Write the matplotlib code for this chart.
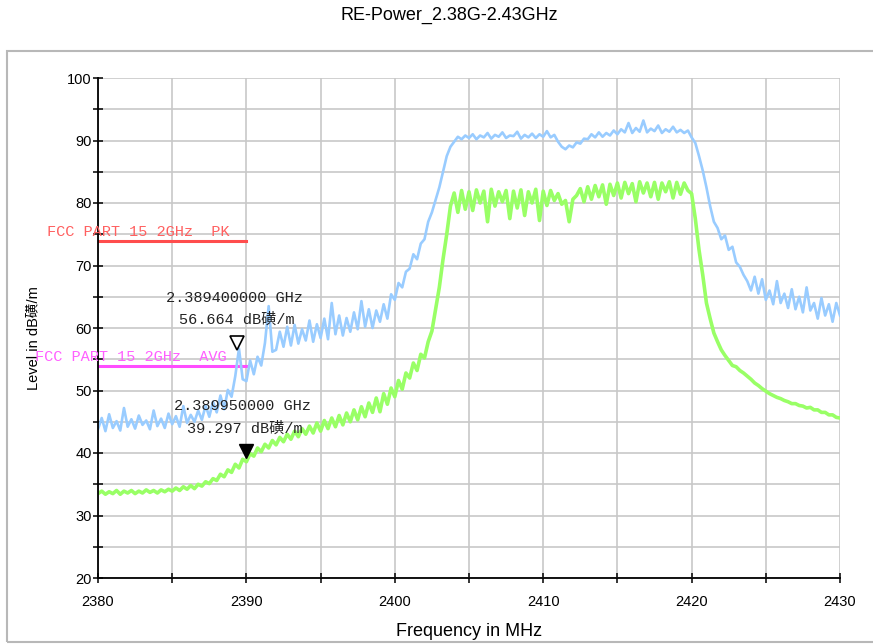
import numpy as np
import matplotlib
matplotlib.use("Agg")
import matplotlib.pyplot as plt
from matplotlib.patches import Rectangle
from matplotlib.transforms import offset_copy

plt.rcParams['font.family'] = ['Liberation Sans', 'Noto Sans CJK SC']

# sweep: 2380 .. 2430 MHz, 0.25 MHz per point
freq_start = 2380.0
freq_step = 0.25

# peak trace (dBuV/m)
peak = [
    43.8, 45.6, 43.5, 46.2, 44.0, 45.1, 43.6, 47.2, 44.2, 45.4,
    43.9, 46.0, 44.5, 45.2, 43.8, 46.8, 44.3, 45.5, 44.0, 46.3,
    44.6, 45.9, 44.2, 47.5, 44.8, 46.1, 45.0, 46.8,
    45.3, 47.6, 45.8, 48.2,
    46.5, 49.2, 47.0, 50.1,
    49.0, 52.3, 56.7, 51.8,
    51.5, 54.8, 52.6, 55.4,
    54.0, 57.6, 63.5, 56.2,
    56.5, 59.4, 57.0, 60.2,
    57.2, 60.5, 57.5, 59.8,
    58.0, 61.2, 57.8, 60.6,
    58.4, 61.5, 58.2, 64.0,
    59.0, 62.0, 58.8, 61.6,
    59.4, 62.5, 59.8, 64.3,
    60.2, 63.0, 60.0, 62.8,
    61.0, 63.8, 61.5, 65.4,
    64.5, 67.2, 66.5, 69.0,
    69.5, 71.8, 71.0, 73.5,
    74.2, 77.0, 78.5, 80.5,
    82.5, 85.0, 87.5, 89.0,
    89.8, 90.6, 90.2, 90.8,
    90.4, 91.0, 90.2, 90.8, 90.5, 91.2, 90.3, 90.9, 90.6, 91.3,
    90.4, 90.8, 90.7, 91.4, 90.3, 90.9, 90.5, 91.1, 90.4, 91.0,
    90.6, 91.5, 90.5, 90.9,
    89.8, 89.0, 88.6, 89.2, 88.9, 89.7, 89.5, 90.3,
    90.2, 91.0, 90.5, 91.3, 90.6, 91.2, 90.8, 91.6,
    91.0, 91.8, 91.3, 92.8, 91.2, 92.0, 91.4, 93.2, 91.3, 91.9,
    91.5, 92.4, 91.2, 91.8, 91.4, 92.2, 91.3, 91.7, 91.2, 91.6,
    90.5, 89.6, 87.5, 85.2,
    82.5, 79.5, 77.0, 76.0,
    74.2, 74.8, 72.5, 73.0,
    70.5, 69.8, 68.5, 67.5,
    66.0, 68.2, 65.5, 67.8,
    64.5, 66.0, 63.8, 67.5,
    64.0, 65.5, 63.2, 66.2,
    63.0, 65.0, 62.5, 66.5,
    62.8, 64.0, 61.5, 64.8,
    62.0, 63.8, 61.0, 64.0,
    62.0,
]

# average trace
avg = [
    33.5, 33.9, 33.4, 33.8, 33.5, 34.0, 33.4, 33.9, 33.6, 34.0,
    33.5, 33.9, 33.6, 34.1, 33.7, 34.0, 33.6, 34.1, 33.8, 34.2,
    33.9, 34.4, 34.0, 34.6, 34.2, 34.8, 34.3, 35.0,
    34.7, 35.4, 35.1, 35.9,
    35.6, 36.6, 36.2, 37.3,
    36.9, 38.2, 37.6, 39.0,
    38.6, 39.9, 39.5, 40.8,
    40.2, 41.4, 40.8, 42.0,
    41.3, 42.5, 41.8, 43.0,
    42.2, 43.5, 42.6, 43.9,
    43.0, 44.3, 43.2, 44.8,
    43.5, 45.2, 43.9, 45.6,
    44.2, 46.0, 44.5, 46.4,
    45.0, 46.9, 45.3, 47.4,
    45.8, 48.0, 46.5, 48.8,
    46.6, 49.5, 47.8, 50.4,
    49.0, 51.6, 50.2, 52.8,
    52.0, 54.4, 53.2, 55.8,
    55.2, 57.8, 59.5, 63.0,
    66.5, 71.0, 75.0, 79.5,
    81.6, 78.5, 82.0, 79.0,
    81.8, 78.8, 82.1, 80.0, 81.9, 77.0, 82.2, 79.5, 81.8, 80.2,
    82.0, 77.5, 81.9, 79.2, 82.1, 78.0, 81.8, 80.0, 82.2, 77.2,
    81.9, 79.6, 82.0, 80.4,
    81.5, 79.8, 80.4, 77.0, 80.6, 81.2, 82.3, 80.2,
    82.6, 80.6, 82.8, 81.0, 82.9, 79.8, 83.0, 81.2,
    83.2, 80.8, 83.3, 81.5, 83.1, 80.2, 83.4, 81.6, 83.2, 81.0,
    83.3, 80.6, 83.2, 81.8, 83.4, 80.8, 83.3, 81.4, 83.2, 82.0,
    81.5, 77.5, 72.5, 68.5,
    64.0, 61.5, 59.2, 57.8,
    56.5, 55.6, 54.8, 54.0,
    53.8, 53.2, 52.8, 52.3,
    51.8, 51.2, 50.8, 50.3,
    49.9, 49.5, 49.2, 48.9,
    48.7, 48.4, 48.2, 47.9,
    47.9, 47.6, 47.5, 47.2,
    47.3, 46.9, 46.9, 46.5,
    46.5, 46.1, 46.1, 45.7,
    45.6,
]

# limit lines
limit_names = ["FCC PART 15 2GHz  PK", "FCC PART 15 2GHz  AVG"]
limit_levels = [74.0, 54.0]
limit_stop = 2390.0

# markers
marker_freq = [2389.4, 2389.95]
marker_level = [56.664, 39.297]
marker_ghz = ["2.389400000 GHz", "2.389950000 GHz"]

freq = freq_start + freq_step * np.arange(len(peak))

fig = plt.figure(figsize=(8.73, 6.44), dpi=100)
fig.patches.append(Rectangle((7 / 873, 1 - 642 / 644), 1.2, 591 / 644,
                             transform=fig.transFigure, fill=False,
                             ec='#b8b8b8', lw=1.5))
fig.text(449 / 873, 1 - 15 / 644, "RE-Power_2.38G-2.43GHz",
         ha='center', va='center', fontsize=13)

ax = fig.add_axes([98 / 873, 1 - 578 / 644, 742 / 873, 500 / 644])
ax.set_xlim(2380, 2430)
ax.set_ylim(20, 100)
ax.set_xticks(np.arange(2380, 2431, 10))
ax.set_xticks(np.arange(2380, 2431, 5), minor=True)
ax.set_yticks(np.arange(20, 101, 10))
ax.set_yticks(np.arange(20, 101, 5), minor=True)
ax.grid(True, which='both', color='#c8c8c8', lw=1.2, zorder=0)
for s in ['top', 'right']:
    ax.spines[s].set_visible(False)
for s in ['left', 'bottom']:
    ax.spines[s].set_linewidth(1.3)
    ax.spines[s].set_zorder(5)
ax.tick_params(which='both', direction='inout', length=7, width=1.1, labelsize=10.5)
ax.tick_params(axis='x', pad=9)
ax.tick_params(axis='y', pad=1)

ax.set_xlabel("Frequency in MHz", fontsize=13)
ax.xaxis.set_label_coords(0.5, -0.09)
ax.set_ylabel("Level in dB磺/m", fontsize=10.5)
ax.yaxis.set_label_coords(-0.078, 0.48)

mono = ['Liberation Mono', 'Noto Sans CJK SC']
limit_line_colors = ['#ff4d4d', '#ff4dff']
limit_text_colors = ['#ff6060', '#ff60ff']
limit_text_x = [2376.56, 2375.75]
for name, lvl, lc, tc, tx in zip(limit_names, limit_levels, limit_line_colors,
                                 limit_text_colors, limit_text_x):
    ax.plot([2380, limit_stop], [lvl, lvl], color=lc, lw=2.2, zorder=2)
    ax.text(tx, lvl + 1.35, name, color=tc, fontsize=11, family=mono,
            ha='left', va='center', clip_on=False, zorder=6)

ax.plot(freq, peak, color='#99ccff', lw=1.9, zorder=3)
ax.plot(freq, avg, color='#99ff66', lw=2.6, zorder=4)

tri = offset_copy(ax.transData, fig=fig, x=0, y=6, units='dots')
ax.plot(marker_freq[0], marker_level[0], marker='v', ms=10, mfc='white',
        mec='black', mew=1.2, transform=tri, zorder=7, clip_on=False)
ax.plot(marker_freq[1], marker_level[1], marker='v', ms=10.5, mfc='black',
        mec='black', transform=tri, zorder=7, clip_on=False)

for f, v, g in zip(marker_freq, marker_level, marker_ghz):
    ax.annotate(g, xy=(f, v), xytext=(-3, 51), textcoords='offset pixels',
                ha='center', va='center', fontsize=11, family=mono,
                color='#222222', zorder=8)
    ax.annotate(f"{v:.3f} dB磺/m", xy=(f, v), xytext=(-1, 29),
                textcoords='offset pixels', ha='center', va='center',
                fontsize=11, family=mono, color='#222222', zorder=8)

fig.savefig("out.png", dpi=100)
